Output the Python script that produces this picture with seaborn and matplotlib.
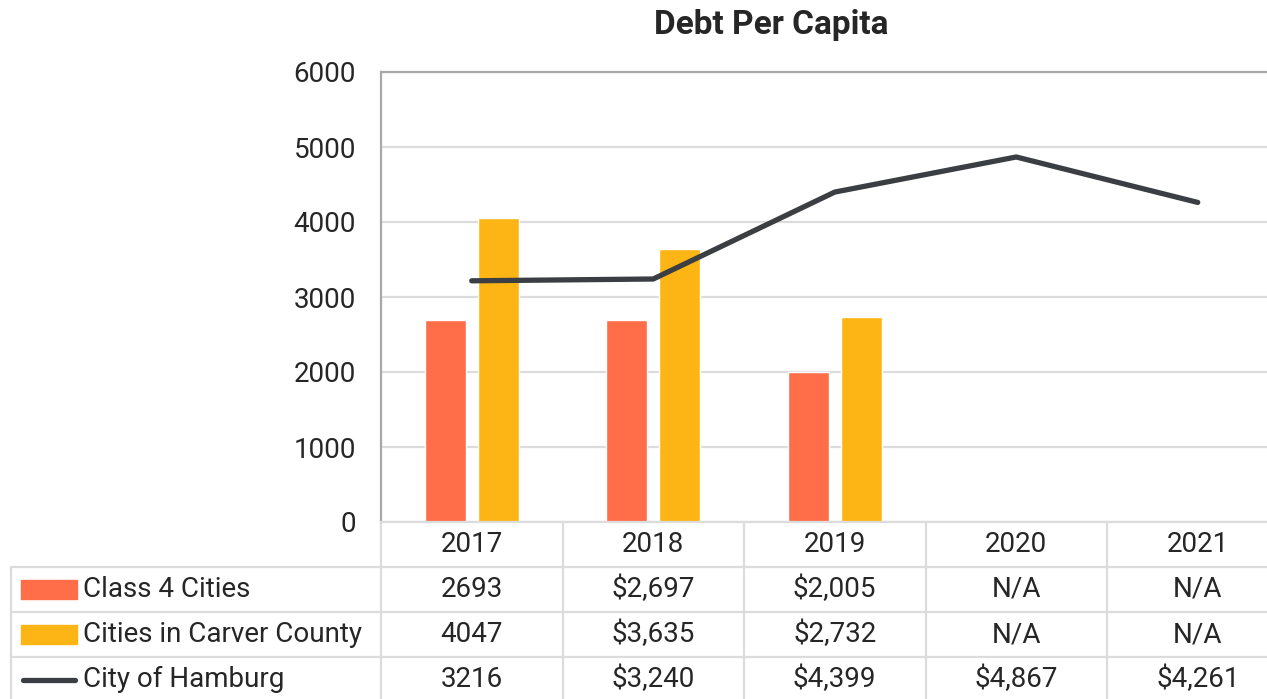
import numpy as np
import pandas as pd
import matplotlib
matplotlib.use("Agg")
import matplotlib.pyplot as plt
import matplotlib.transforms as mtransforms
from matplotlib.patches import Rectangle
from matplotlib.lines import Line2D
import seaborn as sns

# ---- data ----
years = ["2017", "2018", "2019", "2020", "2021"]
class4 = [2693, 2697, 2005, np.nan, np.nan]
carver = [4047, 3635, 2732, np.nan, np.nan]
hamburg = [3216, 3240, 4399, 4867, 4261]
series_names = ["Class 4 Cities", "Cities in Carver County", "City of Hamburg"]
table_rows = [
    ["2693", "$2,697", "$2,005", "N/A", "N/A"],
    ["4047", "$3,635", "$2,732", "N/A", "N/A"],
    ["3216", "$3,240", "$4,399", "$4,867", "$4,261"],
]
yticks = [0, 1000, 2000, 3000, 4000, 5000, 6000]

RED = "#FF6E48"
YEL = "#FDB515"
DARK = "#3B3F43"
GRID = "#DCDCDC"
FS = 20

sns.set_style("white")
plt.rcParams["font.family"] = ["Roboto", "DejaVu Sans"]

bars = pd.DataFrame({
    "year": years * 2,
    "value": class4 + carver,
    "series": [series_names[0]] * 5 + [series_names[1]] * 5,
})

W, H = 1267, 699
fig = plt.figure(figsize=(W / 100, H / 100), dpi=100)
# plot area: x 381 -> 1288 px (5 columns of ~181.5 px), y 72 -> 522 px
ax = fig.add_axes([381 / W, 1 - 522 / H, (5 * 181.5) / W, 450 / H])

sns.barplot(data=bars, x="year", y="value", hue="series", order=years,
            hue_order=series_names[:2], palette=[RED, YEL], width=0.58,
            gap=0.22, legend=False, ax=ax, saturation=1)
sns.lineplot(x=np.arange(len(years)), y=hamburg, color=DARK, lw=3.8,
             ax=ax, solid_capstyle="round", solid_joinstyle="round")

ax.set_xlim(-0.5, len(years) - 0.5)
ax.set_ylim(0, 6000)
ax.set_yticks(yticks)
ax.set_yticklabels([str(v) for v in yticks], fontsize=FS)
ax.tick_params(axis="y", length=0, pad=18)
ax.set_xticks([])
ax.set_xlabel("")
ax.set_ylabel("")
ax.yaxis.grid(True, color=GRID, lw=1.6)
ax.set_axisbelow(True)
for s in ["top", "left"]:
    ax.spines[s].set_color("#A8A8A8")
    ax.spines[s].set_linewidth(1.6)
ax.spines["right"].set_visible(False)
ax.spines["bottom"].set_color(GRID)
ax.spines["bottom"].set_linewidth(1.6)

fig.text(771 / W, 1 - 25 / H, "Debt Per Capita", ha="center", va="center",
         fontsize=24, fontweight="bold")

# ---- data table below the axis ----
tr_data = mtransforms.blended_transform_factory(ax.transData, ax.transAxes)
tr_fig = mtransforms.blended_transform_factory(fig.transFigure, ax.transAxes)
row_h = 0.1
for i, y in enumerate(years):
    ax.text(i, -0.05, y, transform=tr_data, ha="center", va="center",
            fontsize=FS, clip_on=False)
for r, row in enumerate(table_rows):
    yc = -0.05 - row_h * (r + 1)
    for i, txt in enumerate(row):
        ax.text(i, yc, txt, transform=tr_data, ha="center", va="center",
                fontsize=FS, clip_on=False)
    ax.text(83 / W, yc, series_names[r], transform=tr_fig, ha="left",
            va="center", fontsize=FS, clip_on=False)

# legend keys
for r, col in enumerate([RED, YEL]):
    yc = -0.05 - row_h * (r + 1)
    ax.add_patch(Rectangle((21 / W, yc - 0.022), 56 / W, 0.044, color=col,
                           transform=tr_fig, clip_on=False))
ax.add_line(Line2D([23 / W, 75 / W], [-0.35, -0.35], color=DARK, lw=3.8,
                   solid_capstyle="round", transform=tr_fig, clip_on=False))

# grid lines of the table
for k in range(1, 5):
    ax.add_line(Line2D([11 / W, 1.0], [-row_h * k] * 2, color=GRID, lw=1.6,
                       transform=tr_fig, clip_on=False))
ax.add_line(Line2D([11 / W, 11 / W], [-0.1, -0.4], color=GRID, lw=1.6,
                   transform=tr_fig, clip_on=False))
for b in np.arange(-0.5, len(years), 1.0):
    ax.add_line(Line2D([b, b], [0, -0.4], color=GRID, lw=1.6,
                       transform=tr_data, clip_on=False))

fig.savefig("out.png", dpi=100)
